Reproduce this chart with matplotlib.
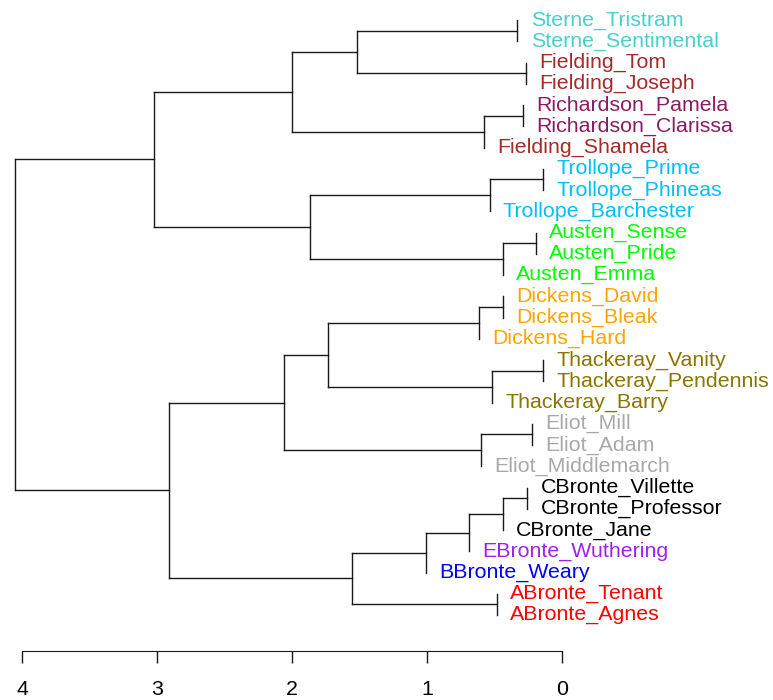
import matplotlib
matplotlib.use("Agg")
import matplotlib.pyplot as plt
from matplotlib.transforms import offset_copy

# Hojas del dendrograma (de arriba a abajo)
textos = [
    "Sterne_Tristram", "Sterne_Sentimental", "Fielding_Tom", "Fielding_Joseph",
    "Richardson_Pamela", "Richardson_Clarissa", "Fielding_Shamela",
    "Trollope_Prime", "Trollope_Phineas", "Trollope_Barchester",
    "Austen_Sense", "Austen_Pride", "Austen_Emma",
    "Dickens_David", "Dickens_Bleak", "Dickens_Hard",
    "Thackeray_Vanity", "Thackeray_Pendennis", "Thackeray_Barry",
    "Eliot_Mill", "Eliot_Adam", "Eliot_Middlemarch",
    "CBronte_Villette", "CBronte_Professor", "CBronte_Jane",
    "EBronte_Wuthering", "BBronte_Weary", "ABronte_Tenant", "ABronte_Agnes",
]

# Colores por autor
colores_autor = {
    "Sterne": "#48D1CC", "Fielding": "#A52A2A", "Richardson": "#8B1C62",
    "Trollope": "#00BFFF", "Austen": "#00FF00", "Dickens": "#FFA500",
    "Thackeray": "#8B7500", "Eliot": "#A9A9A9", "CBronte": "#000000",
    "EBronte": "#A020F0", "BBronte": "#0000FF", "ABronte": "#FF0000",
}

# Matriz de fusiones estilo hclust: negativo = hoja, positivo = fila anterior
merge_a = [-1, -3, 1, -5, 4, 3, -8, 7, -11, 9, 8, 6,
           -14, 13, -17, 15, 14, -20, 18, 17,
           -23, 21, 22, 23, -28, 24, 20, 12]
merge_b = [-2, -4, 2, -6, -7, 5, -9, -10, -12, -13, 10, 11,
           -15, -16, -18, -19, 16, -21, -22, 19,
           -24, -25, -26, -27, -29, 25, 26, 27]
alturas = [0.331, 0.269, 1.516, 0.291, 0.58, 2.002, 0.138, 0.536, 0.193, 0.44, 1.867, 3.022,
           0.44, 0.612, 0.138, 0.519, 1.736, 0.225, 0.60, 2.057,
           0.257, 0.44, 0.689, 1.01, 0.481, 1.555, 2.913, 4.054]

ticks_x = [4, 3, 2, 1, 0]

plt.rcParams["font.family"] = ["Liberation Sans", "DejaVu Sans"]

fig = plt.figure(figsize=(7.73, 7.00), dpi=100)
# eje ocupa todo el ancho; abajo en y=651 px
ax = fig.add_axes([0, 49 / 700, 1, 651 / 700])
ax.set_xlim(562 / 135, (562 - 773) / 135)
paso = 21.25
ax.set_ylim((651 - 20) / paso, -20 / paso)

pos_y = {}
texto_trans = offset_copy(ax.transData, fig=fig, x=9.6, y=0, units="points")


def posicion(nodo):
    if nodo < 0:
        return -nodo - 1, 0.0
    return pos_y[nodo], alturas[nodo - 1]


for i in range(len(alturas)):
    fila = i + 1
    h = alturas[i]
    ya, ha = posicion(merge_a[i])
    yb, hb = posicion(merge_b[i])
    pos_y[fila] = (ya + yb) / 2
    ax.plot([h, h], [ya, yb], color="#1a1a1a", lw=1.0, clip_on=False)
    for nodo, y, hh in [(merge_a[i], ya, ha), (merge_b[i], yb, hb)]:
        if nodo > 0:
            ax.plot([h, hh], [y, y], color="#1a1a1a", lw=1.0, clip_on=False)
        else:
            nombre = textos[-nodo - 1]
            autor = nombre.split("_")[0]
            ax.text(h, y, nombre, transform=texto_trans, ha="left", va="center",
                    fontsize=15.4, color=colores_autor[autor])

for lado in ["top", "right", "left"]:
    ax.spines[lado].set_visible(False)
ax.spines["bottom"].set_bounds(0, 4)
ax.spines["bottom"].set_color("#1a1a1a")
ax.set_xticks(ticks_x)
ax.set_xticklabels([str(t) for t in ticks_x])
ax.tick_params(axis="x", direction="out", length=8.6, width=1.0, color="#1a1a1a",
               labelsize=15.4, pad=12)
ax.set_yticks([])

fig.savefig("out.png", dpi=100, facecolor="white")
